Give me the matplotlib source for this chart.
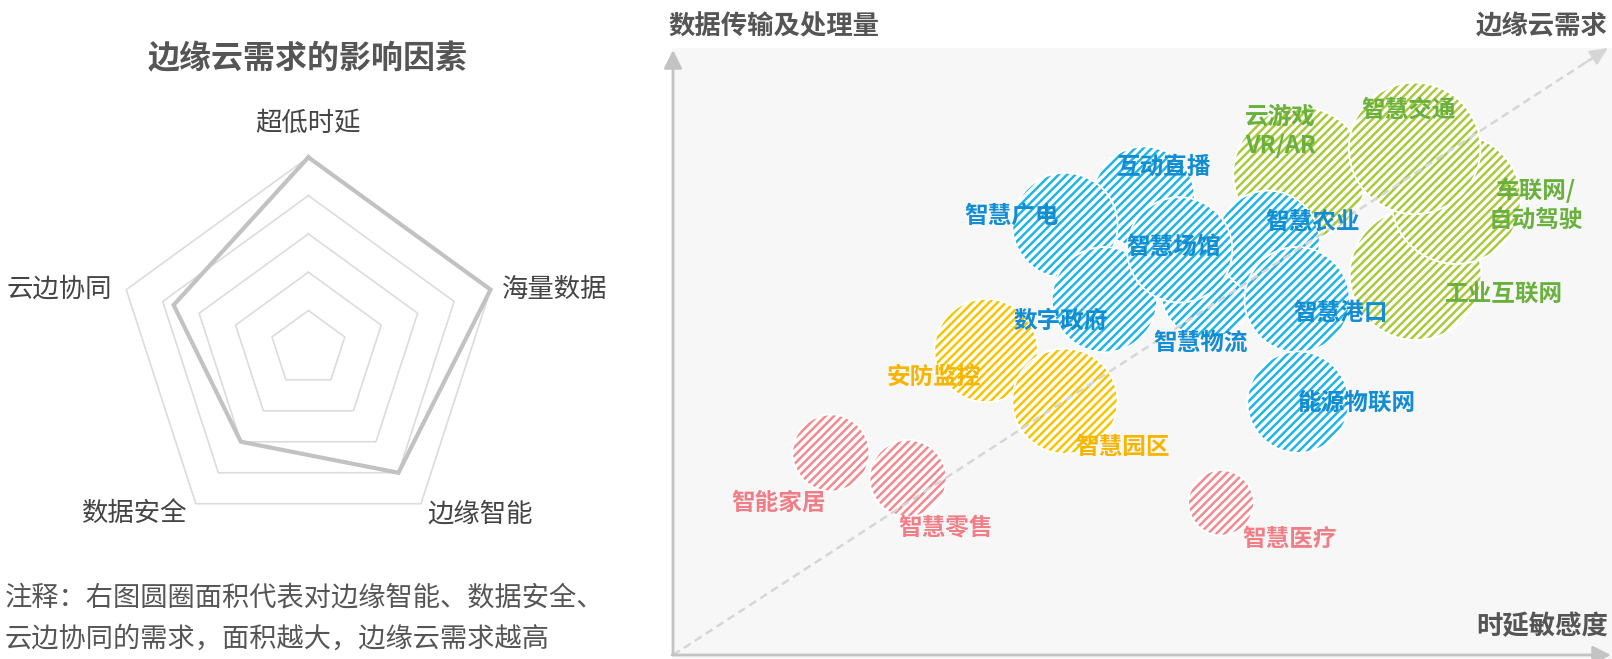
import matplotlib
matplotlib.use("Agg")
import matplotlib.pyplot as plt
import numpy as np
from matplotlib.patches import Circle

plt.rcParams['font.family'] = ['Noto Sans CJK SC', 'DejaVu Sans']
plt.rcParams['hatch.linewidth'] = 1.8

# ---------------- data ----------------
radar_title = "边缘云需求的影响因素"
radar_factors = ["超低时延", "海量数据", "边缘智能", "数据安全", "云边协同"]
radar_values = [5, 5, 4, 3, 3.7]
radar_levels = [1, 2, 3, 4, 5]

note_lines = ["注释：右图圆圈面积代表对边缘智能、数据安全、",
              "云边协同的需求，面积越大，边缘云需求越高"]

y_title = "数据传输及处理量"
x_title = "时延敏感度"
diag_title = "边缘云需求"

# scenario bubbles: latency sensitivity (x), data volume (y), bubble radius, group
scenarios = ["互动直播", "智慧广电", "数字政府", "智慧物流", "云游戏VR/AR", "智慧农业",
             "智慧场馆", "智慧港口", "能源物联网", "工业互联网", "车联网/自动驾驶", "智慧交通",
             "安防监控", "智慧园区", "智能家居", "智慧零售", "智慧医疗"]
latency = [5.01, 4.17, 4.59, 5.68, 6.67, 6.33, 5.39, 6.64, 6.65, 7.90, 8.33, 7.89,
           3.33, 4.17, 1.68, 2.50, 5.83]
volume = [4.87, 4.57, 3.78, 3.86, 5.12, 4.39, 4.31, 3.78, 2.69, 4.05, 4.85, 5.39,
          3.24, 2.70, 2.15, 1.88, 1.62]
radius = [0.54, 0.56, 0.56, 0.49, 0.71, 0.55, 0.56, 0.56, 0.54, 0.70, 0.69, 0.70,
          0.55, 0.56, 0.41, 0.41, 0.35]
group = ["blue", "blue", "blue", "blue", "green", "blue", "blue", "blue", "blue", "green",
         "green", "green", "yellow", "yellow", "pink", "pink", "pink"]
label_text = ["互动直播", "智慧广电", "数字政府", "智慧物流", "云游戏\nVR/AR", "智慧农业",
              "智慧场馆", "智慧港口", "能源物联网", "工业互联网", "车联网/\n自动驾驶", "智慧交通",
              "安防监控", "智慧园区", "智能家居", "智慧零售", "智慧医疗"]
label_x = [5.22, 3.60, 4.12, 5.61, 6.46, 6.80, 5.32, 7.10, 7.28, 8.84, 9.18, 7.82,
           2.78, 4.78, 1.12, 2.90, 6.56]
label_y = [5.19, 4.67, 3.56, 3.32, 5.57, 4.61, 4.34, 3.64, 2.68, 3.83, 4.79, 5.80,
           2.96, 2.21, 1.62, 1.35, 1.23]

bubble_colors = {"blue": "#1fb5e6", "green": "#a8c93a", "yellow": "#f6c400", "pink": "#f28a90"}
label_colors = {"blue": "#128dd3", "green": "#69b13c", "yellow": "#f7b400", "pink": "#f07e86"}

# ---------------- figure ----------------
W, H = 1612, 659
fig = plt.figure(figsize=(W / 100, H / 100), dpi=100)


def px_axes(x0, y0, x1, y1):
    return fig.add_axes([x0 / W, 1 - y1 / H, (x1 - x0) / W, (y1 - y0) / H])


# ---------------- radar ----------------
k = 38.3          # px per unit
cx, cy = 308.4, 348.8
rax = px_axes(0, 0, 620, 659)
rax.set_xlim(-cx / k, (620 - cx) / k)
rax.set_ylim(-(659 - cy) / k, cy / k)
rax.axis("off")

n = len(radar_factors)
ang = np.deg2rad(90 - 360 / n * np.arange(n))
for lv in radar_levels:
    xs = np.append(lv * np.cos(ang), lv * np.cos(ang[0]))
    ys = np.append(lv * np.sin(ang), lv * np.sin(ang[0]))
    rax.plot(xs, ys, color="#dcdcdc", lw=1.2, zorder=1)
vals = np.array(radar_values)
rax.plot(np.append(vals * np.cos(ang), vals[0] * np.cos(ang[0])),
         np.append(vals * np.sin(ang), vals[0] * np.sin(ang[0])),
         color="#c2c2c2", lw=3.0, solid_joinstyle="miter", zorder=2)

lab_pos = [(0, 5.9, "center"), (5.05, 1.56, "left"), (4.48, -4.31, "center"),
           (-4.53, -4.31, "center"), (-5.13, 1.56, "right")]
for name, (lx, ly, ha) in zip(radar_factors, lab_pos):
    rax.text(lx, ly, name, ha=ha, va="center", fontsize=19, color="#444444")

# ---------------- bubble chart ----------------
u = 94.0
x0px, y0px = 673, 655
bax = px_axes(672, 48, 1612, 659)
bax.set_xlim((672 - x0px) / u, (1612 - x0px) / u)
bax.set_ylim((y0px - 659) / u, (y0px - 48) / u)
bax.set_facecolor("#f7f7f7")
for s in bax.spines.values():
    s.set_visible(False)
bax.set_xticks([])
bax.set_yticks([])

for i in range(len(scenarios)):
    c = bubble_colors[group[i]]
    bax.add_patch(Circle((latency[i], volume[i]), radius[i], facecolor="white",
                         edgecolor=c, linewidth=0, hatch="////", zorder=2 + i * 0.01))
    bax.add_patch(Circle((latency[i], volume[i]), radius[i], facecolor="none",
                         edgecolor="white", linewidth=1.3, zorder=2 + i * 0.01 + 0.005))

# diagonal dashed arrow
tipx, tipy = (1608 - x0px) / u, (y0px - 48) / u
frac = 0.985
bax.plot([0, tipx * frac], [0, tipy * frac], color="#d6d6d6", lw=1.8,
         ls=(0, (3.2, 2.0)), zorder=3, solid_capstyle="butt")
bax.annotate("", xy=(tipx, tipy), xytext=(tipx * 0.975, tipy * 0.975),
             arrowprops=dict(arrowstyle="-|>,head_length=1.1,head_width=0.5",
                             color="#d6d6d6", lw=1.5, shrinkA=0, shrinkB=0),
             annotation_clip=False, zorder=3)

# axes arrows
ax_col = "#c3c3c3"
bax.annotate("", xy=(0, (y0px - 50) / u), xytext=(0, 0),
             arrowprops=dict(arrowstyle="-|>,head_length=1.1,head_width=0.55",
                             color=ax_col, lw=2.0, shrinkA=0, shrinkB=0),
             annotation_clip=False, zorder=4)
bax.annotate("", xy=((1611 - x0px) / u, 0), xytext=(-0.01, 0),
             arrowprops=dict(arrowstyle="-|>,head_length=1.1,head_width=0.55",
                             color=ax_col, lw=2.0, shrinkA=0, shrinkB=0),
             annotation_clip=False, zorder=4)

for i in range(len(scenarios)):
    bax.text(label_x[i], label_y[i], label_text[i], ha="center", va="center",
             fontsize=17, fontweight="bold", color=label_colors[group[i]],
             linespacing=1.25, zorder=10)

# ---------------- overlay texts ----------------
oax = fig.add_axes([0, 0, 1, 1], facecolor="none")
oax.set_xlim(0, W)
oax.set_ylim(H, 0)
oax.axis("off")
oax.text(308, 59, radar_title, ha="center", va="center", fontsize=23,
         fontweight="bold", color="#555555")
oax.text(5, 598, note_lines[0], ha="left", va="center", fontsize=19.6, color="#555555")
oax.text(5, 639, note_lines[1], ha="left", va="center", fontsize=19.6, color="#555555")
oax.text(668, 27, y_title, ha="left", va="center", fontsize=19,
         fontweight="bold", color="#555555")
oax.text(1608, 27, diag_title, ha="right", va="center", fontsize=19,
         fontweight="bold", color="#555555")
oax.text(1608, 627, x_title, ha="right", va="center", fontsize=19,
         fontweight="bold", color="#555555")

fig.savefig("out.png", dpi=100)
